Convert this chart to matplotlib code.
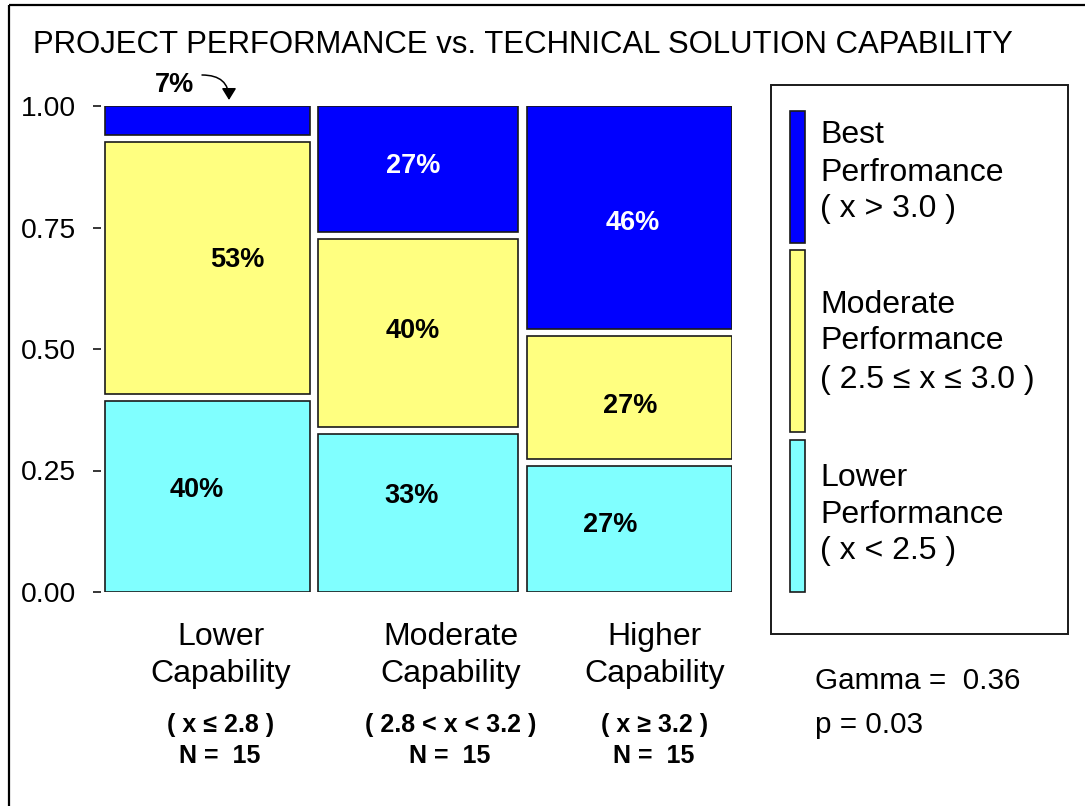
import matplotlib
matplotlib.use('Agg')
import matplotlib.pyplot as plt
from matplotlib.patches import Rectangle
import numpy as np

plt.rcParams['font.family'] = ['Liberation Sans', 'DejaVu Sans']

# ---------------- data ----------------
title = "PROJECT PERFORMANCE vs. TECHNICAL SOLUTION CAPABILITY"
categories = ["Lower\nCapability", "Moderate\nCapability", "Higher\nCapability"]
category_ranges = ["( x ≤ 2.8 )", "( 2.8 < x < 3.2 )", "( x ≥ 3.2 )"]
category_n = [15, 15, 15]
# counts per performance level (bottom -> top), per capability column
lower_counts = [6, 5, 4]
moderate_counts = [8, 6, 4]
best_counts = [1, 4, 7]
lower_labels = ["40%", "33%", "27%"]
moderate_labels = ["53%", "40%", "27%"]
best_labels = ["7%", "27%", "46%"]
legend_labels = ["Best\nPerfromance\n( x > 3.0 )",
                 "Moderate\nPerformance\n( 2.5 ≤ x ≤ 3.0 )",
                 "Lower\nPerformance\n( x < 2.5 )"]
yticks = [0.0, 0.25, 0.5, 0.75, 1.0]
ytick_labels = ["0.00", "0.25", "0.50", "0.75", "1.00"]
gamma_text = "Gamma =  0.36"
p_text = "p = 0.03"

# ---------------- style ----------------
C_LOW, C_MOD, C_BEST = '#80FFFF', '#FFFF80', '#0000FF'
EDGE = '#1a1a1a'
W, H = 1085, 806

fig = plt.figure(figsize=(W / 100, H / 100), dpi=100)
fig.patch.set_facecolor('white')

# main mosaic axes (pixel layout)
ax_l, ax_r, ax_t, ax_b = 101, 732, 106, 592
ax = fig.add_axes([ax_l / W, 1 - ax_b / H, (ax_r - ax_l) / W, (ax_b - ax_t) / H])
x_px_per_unit = (ax_r - 105)
ax.set_xlim(-(105 - ax_l) / x_px_per_unit, 1.0)
ax.set_ylim(0, 1)
for s in ax.spines.values():
    s.set_visible(False)
ax.set_xticks([])
ax.set_yticks(yticks)
ax.set_yticklabels(ytick_labels, fontsize=20.3)
ax.tick_params(axis='y', direction='out', length=6, width=1.1, pad=12, color='black')

gx = 9 / x_px_per_unit
gy = 7 / (ax_b - ax_t)

n = np.array(category_n, dtype=float)
widths = n / n.sum()
xedges = np.concatenate([[0], np.cumsum(widths)])
stack = [np.array(lower_counts) / n, np.array(moderate_counts) / n, np.array(best_counts) / n]
colors = [C_LOW, C_MOD, C_BEST]
labels = [lower_labels, moderate_labels, best_labels]
txtcol = ['black', 'black', 'white']
# label nudges in pixels (dx, dy) per level/column
nudges = [[(-11, 7.5), (-7, 18), (-20, 4.5)],
          [(30, 10.5), (-6, 4.5), (0, -5.5)],
          [(0, 0), (-5, 7.5), (3, -1)]]

for j in range(3):
    x0 = xedges[j] + (gx / 2 if j > 0 else 0)
    x1 = xedges[j + 1] - (gx / 2 if j < 2 else 0)
    bottom = 0.0
    for k in range(3):
        h = stack[k][j]
        y0 = bottom + (gy / 2 if k > 0 else 0)
        y1 = bottom + h - (gy / 2 if k < 2 else 0)
        ax.add_patch(Rectangle((x0, y0), x1 - x0, y1 - y0, facecolor=colors[k],
                               edgecolor=EDGE, linewidth=1.2, zorder=2))
        if not (k == 2 and j == 0):
            dx, dy = nudges[k][j]
            ax.annotate(labels[k][j], xy=((x0 + x1) / 2, bottom + h / 2),
                        xytext=(dx, dy - 9.7), textcoords='offset pixels',
                        ha='center', va='baseline', fontsize=19.5,
                        fontweight='bold', color=txtcol[k], zorder=3)
        bottom += h

# overlay axes in pixel coordinates for annotations / legend
ov = fig.add_axes([0, 0, 1, 1], zorder=5)
ov.set_xlim(0, W)
ov.set_ylim(H, 0)
ov.axis('off')
ov.patch.set_alpha(0)

# outer frame (left + top)
ov.plot([8.5, 8.5], [H, 4.5], color='black', lw=1.6, solid_capstyle='butt')
ov.plot([8.5, W], [4.5, 4.5], color='black', lw=1.6, solid_capstyle='butt')

# title
ov.text(33, 53, title, fontsize=22.4, ha='left', va='baseline')

# small-tile label with arrow
ov.text(175, 92, best_labels[0], fontsize=19.5, fontweight='bold', ha='center', va='baseline')
ov.annotate('', xy=(229, 100), xytext=(202, 75),
            arrowprops=dict(arrowstyle='-|>,head_length=0.47,head_width=0.29',
                            mutation_scale=15, lw=1.1, color='black',
                            shrinkA=0, shrinkB=0,
                            connectionstyle='angle3,angleA=0,angleB=90'))

# category labels
cat_x = [221, 451, 655]
for j in range(3):
    top, bot = categories[j].split('\n')
    ov.text(cat_x[j], 645, top, fontsize=23, ha='center', va='baseline')
    ov.text(cat_x[j], 682, bot, fontsize=23, ha='center', va='baseline')
    ov.text(cat_x[j], 732, category_ranges[j], fontsize=18, fontweight='bold',
            ha='center', va='baseline')
    ov.text(cat_x[j] - 1, 763, f"N =  {category_n[j]}", fontsize=18, fontweight='bold',
            ha='center', va='baseline')

# legend box
ov.add_patch(Rectangle((771, 85), 1068 - 771, 634 - 85, facecolor='white',
                       edgecolor=EDGE, linewidth=1.4))
sw = [(111, 243, C_BEST), (250, 432, C_MOD), (440, 592, C_LOW)]
for (yt, yb, c) in sw:
    ov.add_patch(Rectangle((790, yt), 15, yb - yt, facecolor=c, edgecolor=EDGE, linewidth=1.2))
leg_baselines = [[143, 181, 217], [313, 349, 388], [486, 523, 559]]
for lab, bl in zip(legend_labels, leg_baselines):
    for line, b in zip(lab.split('\n'), bl):
        ov.text(820, b, line, fontsize=23, ha='left', va='baseline')

# statistics
ov.text(815, 689, gamma_text, fontsize=21.3, ha='left', va='baseline')
ov.text(815, 733, p_text, fontsize=21.3, ha='left', va='baseline')

fig.savefig('out.png', dpi=100)
